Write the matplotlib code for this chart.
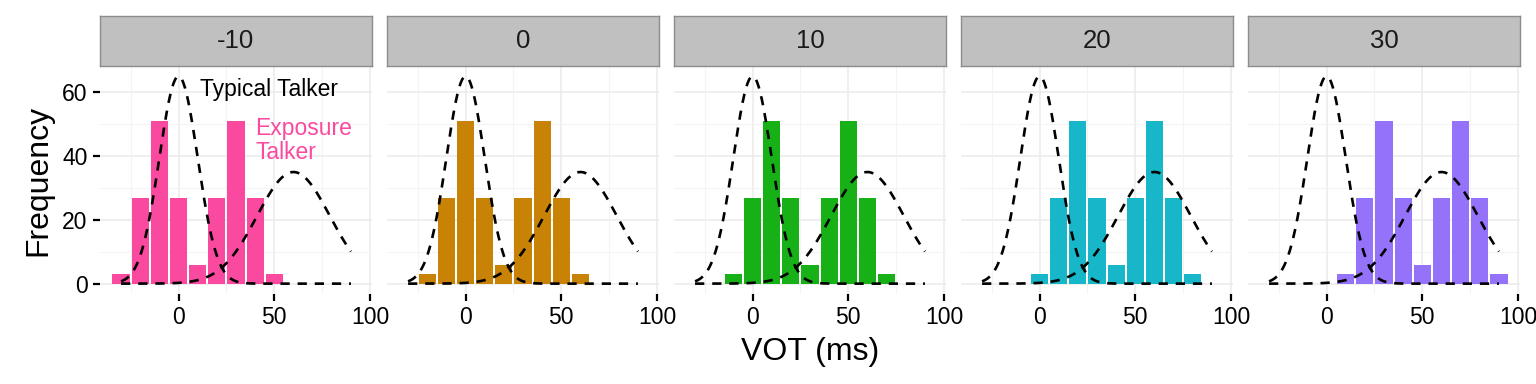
import numpy as np
import matplotlib
matplotlib.use("Agg")
import matplotlib.pyplot as plt

plt.rcParams['font.family'] = ['Liberation Sans', 'DejaVu Sans']

# facet labels (shift of the exposure talker, ms)
shifts = [-10, 0, 10, 20, 30]
bar_colors = ["#FA4AA0", "#C88307", "#17B117", "#17B6C8", "#9572FA"]

# histogram of exposure talker, bins relative to shift
bin_offsets = [-20, -10, 0, 10, 20, 30, 40, 50, 60]
counts = [3, 27, 51, 27, 6, 27, 51, 27, 3]

# typical talker categories (normal curves)
typ_means = [0, 60]
typ_sds = [10, 19]
typ_peaks = [65, 35]
typ_range = (-30, 90)

fig = plt.figure(figsize=(15.36, 3.84), dpi=100)
W, H = 1536, 384
left0, pw, gap = 100, 272, 15
ptop, pbot = 66, 294
stop = 16

xs = np.linspace(typ_range[0], typ_range[1], 300)

for i, (sh, col) in enumerate(zip(shifts, bar_colors)):
    x0 = left0 + i * (pw + gap)
    ax = fig.add_axes([x0 / W, 1 - pbot / H, pw / W, (pbot - ptop) / H])
    ax.set_xlim(-41, 101)
    ax.set_ylim(-3.25, 68.25)
    ax.set_xticks([0, 50, 100])
    ax.set_xticks([-25, 25, 75], minor=True)
    ax.set_yticks([0, 20, 40, 60])
    ax.set_yticks([10, 30, 50], minor=True)
    ax.grid(which='major', color='#EBEBEB', lw=1.1)
    ax.grid(which='minor', color='#F4F4F4', lw=0.8)
    ax.set_axisbelow(True)
    for s in ax.spines.values():
        s.set_visible(False)
    ax.tick_params(which='minor', length=0)
    ax.tick_params(which='major', length=5, width=1.6, color='black',
                   labelsize=16.5, pad=4)
    if i > 0:
        ax.tick_params(axis='y', which='major', left=False, labelleft=False)

    bins = [sh + b for b in bin_offsets]
    ax.bar(bins, counts, width=9, color=col, zorder=2)
    for m, sd, pk in zip(typ_means, typ_sds, typ_peaks):
        ys = pk * np.exp(-(xs - m) ** 2 / (2 * sd ** 2))
        ax.plot(xs, ys, color='black', lw=1.9, ls=(0, (3.5, 3)), zorder=3)

    if i == 0:
        ax.text(11, 61, "Typical Talker", fontsize=16.5, color='black',
                ha='left', va='center')
        ax.text(40, 45, "Exposure\nTalker", fontsize=16.5, color='#FA4AA0',
                ha='left', va='center', linespacing=1.05)
        ax.set_ylabel("Frequency", fontsize=23, labelpad=6)

    sax = fig.add_axes([x0 / W, 1 - ptop / H, pw / W, (ptop - stop) / H])
    sax.set_facecolor('#C0C0C0')
    sax.set_xticks([])
    sax.set_yticks([])
    for s in sax.spines.values():
        s.set_color('#8C8C8C')
        s.set_linewidth(1.0)
    sax.text(0.5, 0.5, str(sh), transform=sax.transAxes, ha='center',
             va='center', fontsize=18.5, color='#1A1A1A')

fig.text((left0 + (5 * pw + 4 * gap) / 2) / W, 1 - 352 / H, "VOT (ms)",
         ha='center', va='center', fontsize=23)

fig.savefig("out.png", dpi=100)
